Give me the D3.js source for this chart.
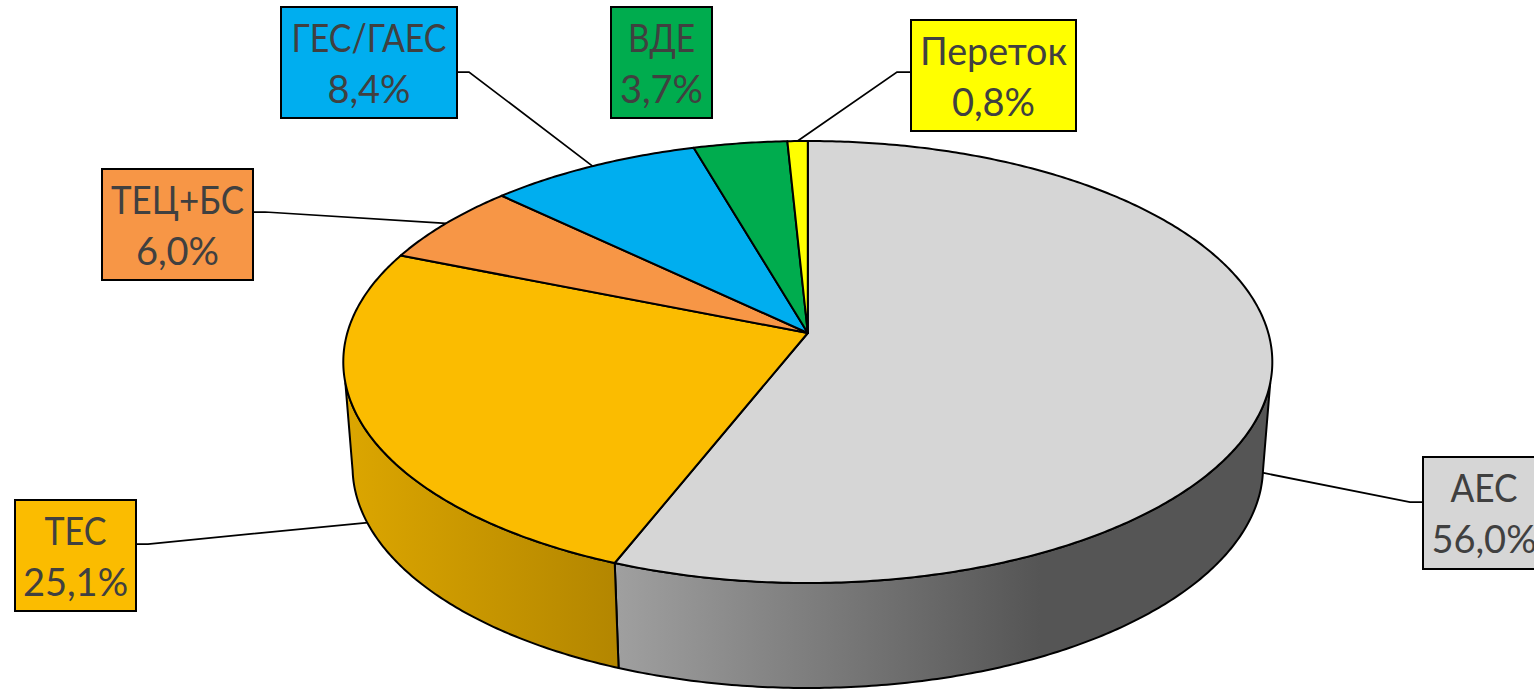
<!DOCTYPE html>
<html>
<head>
<meta charset="utf-8">
<script src="https://cdn.jsdelivr.net/npm/d3@7"></script>
<style>
    html, body { margin: 0; padding: 0; background: #fff; overflow: hidden; }
    svg { display: block; }
    .lbl { font-family: Lato, "Noto Sans", sans-serif; font-size: 38px; fill: #404040; text-anchor: middle; }
</style>
</head>
<body>
<svg></svg>
<script>
const categories = ["АЕС", "ТЕС", "ТЕЦ+БС", "ГЕС/ГАЕС", "ВДЕ", "Переток"];
const shares = [56.0, 25.1, 6.0, 8.4, 3.7, 0.8];
const colors = ["#d6d6d6", "#fbbc00", "#f79646", "#00aeef", "#00ac4e", "#ffff00"];

const width = 1534, height = 689;
const svg = d3.select("svg").attr("width", width).attr("height", height);

// perspective of the disc: apex is not the ellipse centre
const cx = 807.8, cy = 333, rx = 460.5, ry = 217.2, persp = -0.1312;
const topFace = { sx: 1, sy: 1, dy: 0, from: 102.9, to: 257.1 };
const bottomFace = { sx: 0.98, sy: 1, dy: 105, from: 98.5, to: 261.5 };

// label boxes, in category order. elbow = where the leader bends, tw = first line width
const boxes = [
    { x: 1423, y: 457, w: 122, h: 112, tw: 67, elbow: [1410, 502], side: 0, face: bottomFace, lift: 7 },
    { x: 15, y: 500, w: 121, h: 111, tw: 62, elbow: [148, 544], side: 1, face: bottomFace, lift: 6 },
    { x: 102, y: 169, w: 151, h: 111, tw: 133, elbow: [265, 212], side: 1, face: topFace, lift: 0 },
    { x: 281, y: 7, w: 176, h: 111, tw: 155, elbow: [469, 72], side: 1, face: topFace, lift: 0 },
    { x: 611, y: 7, w: 101, h: 111, tw: 67, elbow: null },
    { x: 911, y: 20, w: 165, h: 111, tw: 147, elbow: [897, 72], side: 0, face: topFace, lift: 0 }
];

const fmt = d3.formatLocale({ decimal: ",", thousands: " ", grouping: [3], currency: ["", ""] }).format(".1f");
const deg = d3.scaleLinear().domain([0, 360]).range([0, 2 * Math.PI]);

const pie = d3.pie().sort(null).startAngle(0).endAngle(2 * Math.PI);
const arcs = pie(shares);

function project(a, face) {
    const u = Math.sin(a), v = -Math.cos(a), w = 1 + persp * v;
    return [cx + face.sx * rx * u / w, cy + face.dy + face.sy * ry * v / w];
}

function arcPoints(a0, a1, face) {
    const n = Math.max(2, Math.ceil(Math.abs(a1 - a0) / 0.01));
    return d3.range(n + 1).map(i => project(a0 + (a1 - a0) * i / n, face));
}

const line = d3.line();

// wall gradients
const defs = svg.append("defs");
function wallGradient(id, x1, x2, stops) {
    const g = defs.append("linearGradient").attr("id", id)
        .attr("gradientUnits", "userSpaceOnUse")
        .attr("x1", x1).attr("x2", x2).attr("y1", 0).attr("y2", 0);
    stops.forEach(s => g.append("stop").attr("offset", s[0]).attr("stop-color", s[1]));
}
wallGradient("wall0", 614, 1040, [[0, "#a0a0a0"], [1, "#555555"]]);
wallGradient("wall1", 345, 618, [[0, "#dca600"], [1, "#b38600"]]);

// leaders go first, the pie covers their ends
svg.append("g").selectAll("path")
    .data(boxes.map((b, i) => ({ b, i })).filter(d => d.b.elbow))
    .join("path")
    .attr("fill", "none").attr("stroke", "#000").attr("stroke-width", 1.75)
    .attr("d", d => {
        const mid = (arcs[d.i].startAngle + arcs[d.i].endAngle) / 2;
        const p = project(mid, d.b.face);
        const edge = d.b.side ? d.b.x + d.b.w : d.b.x;
        return line([[p[0], p[1] - d.b.lift], d.b.elbow, [edge, d.b.elbow[1]]]);
    });

// walls, only the two front slices show
const clampA = (a, f) => Math.min(deg(f.to), Math.max(deg(f.from), a));
svg.append("g").selectAll("path")
    .data(arcs.filter(d => d.startAngle < deg(bottomFace.to)))
    .join("path")
    .attr("fill", (d, i) => `url(#wall${i})`)
    .attr("stroke", "#000").attr("stroke-width", 2).attr("stroke-linejoin", "round")
    .attr("d", d => line(arcPoints(clampA(d.startAngle, topFace), clampA(d.endAngle, topFace), topFace)
        .concat(arcPoints(clampA(d.endAngle, bottomFace), clampA(d.startAngle, bottomFace), bottomFace))) + "Z");

// top of the pie
svg.append("g").selectAll("path")
    .data(arcs)
    .join("path")
    .attr("fill", (d, i) => colors[i])
    .attr("stroke", "#000").attr("stroke-width", 2).attr("stroke-linejoin", "round")
    .attr("d", d => line([[cx, cy]].concat(arcPoints(d.startAngle, d.endAngle, topFace))) + "Z");

// data labels
const lbl = svg.append("g").selectAll("g")
    .data(categories)
    .join("g")
    .attr("transform", (d, i) => `translate(${boxes[i].x},${boxes[i].y})`);
lbl.append("rect")
    .attr("width", (d, i) => boxes[i].w).attr("height", (d, i) => boxes[i].h)
    .attr("fill", (d, i) => colors[i]).attr("stroke", "#000").attr("stroke-width", 2);
lbl.append("text").attr("class", "lbl")
    .attr("x", (d, i) => boxes[i].w / 2).attr("y", 45)
    .attr("textLength", (d, i) => boxes[i].tw).attr("lengthAdjust", "spacingAndGlyphs")
    .text(d => d);
lbl.append("text").attr("class", "lbl")
    .attr("x", (d, i) => boxes[i].w / 2).attr("y", 96).text((d, i) => fmt(shares[i]) + "%");
</script>
</body>
</html>
